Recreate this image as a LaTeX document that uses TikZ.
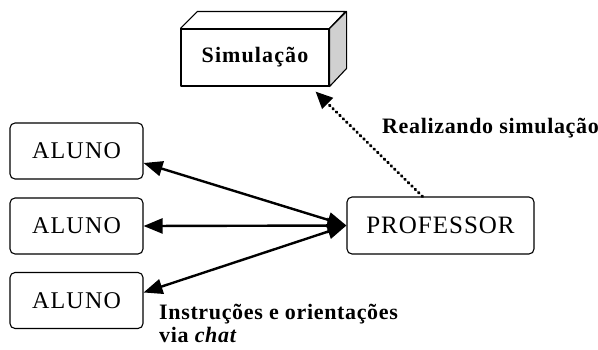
\documentclass[tikz,border=0pt]{standalone}
\usepackage{fontspec}
\setmainfont{Liberation Serif}
\usetikzlibrary{arrows.meta,positioning}
\definecolor{LadoCinza}{HTML}{D0D0D0}

\begin{document}
\begin{tikzpicture}[x=1pt,y=-1pt,line cap=round,line join=round,
  caixa/.style={draw,line width=1.1pt,rounded corners=5pt,minimum width=133pt,minimum height=56pt,inner sep=0pt,
    font=\fontsize{24}{26}\selectfont\addfontfeature{LetterSpace=5}},
  seta/.style={line width=2.4pt,{Triangle[length=19pt,width=15pt]}-{Triangle[length=19pt,width=15pt]}},
  rotulo/.style={inner sep=0pt,align=left,font=\bfseries\fontsize{22}{23}\selectfont\addfontfeature{LetterSpace=3}}]
  \useasboundingbox (0,0) rectangle (598,349);
  % caixas
  \node[caixa] (a1) at (76.5,151) {ALUNO};
  \node[caixa] (a2) at (76.5,226) {ALUNO};
  \node[caixa] (a3) at (76.5,300.5) {ALUNO};
  \node[caixa,minimum width=187pt,minimum height=57pt,font=\fontsize{25}{27}\selectfont\addfontfeature{LetterSpace=4}] (prof) at (440.5,225.5) {PROFESSOR};
  \node[draw,line width=1.1pt,minimum width=148pt,minimum height=57pt,inner sep=0pt,
    font=\bfseries\fontsize{22}{24}\selectfont\addfontfeature{LetterSpace=5}] (sim) at (255,57.5) {Simulação};
  \draw[line width=1.1pt] (sim.north west)--++(17,-17)--++(148,0)--(sim.north east);
  \filldraw[line width=1.1pt,fill=LadoCinza] (sim.north east)--++(17,-17)--++(0,57)--(sim.south east)--cycle;
  % setas
  \draw[seta] (prof.west) -- ([yshift=-12pt]a1.east);
  \draw[seta] (prof.west) -- (a2.east);
  \draw[seta] (prof.west) -- ([yshift=8pt]a3.east);
  \draw[line width=3pt,dash pattern=on 0.8pt off 4pt,-{Triangle[length=17pt,width=15pt]}] ([xshift=-18pt]prof.north) -- ([xshift=-14pt,yshift=-5pt]sim.south east);
  % textos
  \node[rotulo,anchor=west] (real) at (382,128) {Realizando simulação};
  \node[rotulo,anchor=north west] (instr) at (159,304) {Instruções e orientações\\via \textit{chat}};
\end{tikzpicture}
\end{document}
